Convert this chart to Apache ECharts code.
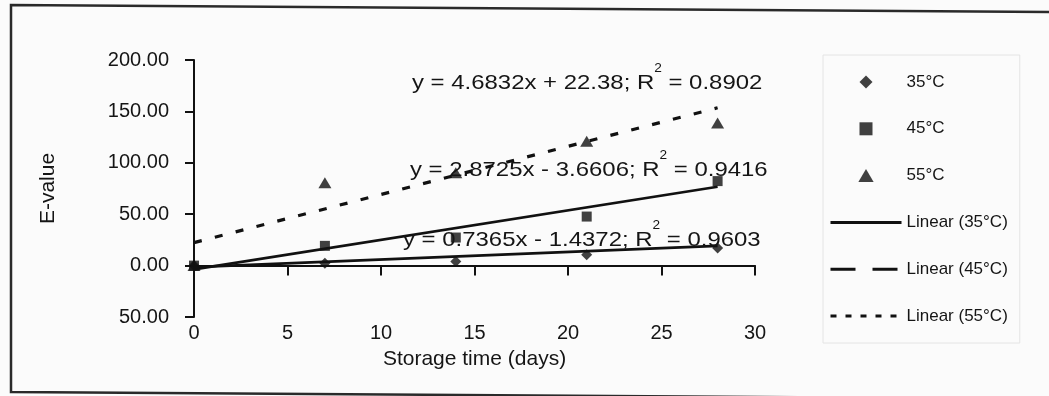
<!DOCTYPE html>
<html>
<head>
<meta charset="utf-8">
<script src="https://cdn.jsdelivr.net/npm/echarts@6/dist/echarts.min.js"></script>
<style>
  html, body { margin: 0; padding: 0; background: #fbfbfb; }
  #chart { width: 1049px; height: 396px; }
</style>
</head>
<body>
<div id="chart"></div>
<script>
// Storage days and measured E-values per temperature
const days = [0, 7, 14, 21, 28];
const temps = ['35°C', '45°C', '55°C'];
const eValue35 = [0, 2.4, 4.0, 10.5, 17.0];
const eValue45 = [0, 19.2, 27.3, 47.7, 82.2];
const eValue55 = [0, 80.6, 90.3, 121.0, 138.8];

// Linear regression results (slope, intercept, R²) per temperature
const fitSlope = [0.7365, 2.8725, 4.6832];
const fitIntercept = [-1.4372, -3.6606, 22.38];
const fitR2 = [0.9603, 0.9416, 0.8902];

// Axis tick values and their printed labels
const yTicks = [-50, 0, 50, 100, 150, 200];
const yTickLabels = ['50.00', '0.00', '50.00', '100.00', '150.00', '200.00'];
const xTicks = [0, 5, 10, 15, 20, 25, 30];
const xTickLabels = ['0', '5', '10', '15', '20', '25', '30'];

const FONT = '"Liberation Sans", Arial, sans-serif';
const INK = '#151515';
const LINE = '#111';
const CLEAR = 'rgba(0,0,0,0)';

const symbols = [
  'path://M0,-1L1,0L0,1L-1,0Z',          // diamond
  'path://M-1,-1L1,-1L1,1L-1,1Z',        // square
  'path://M0,-0.85L1,0.85L-1,0.85Z'      // triangle
];
const symbolSizes = [[11, 11], [10, 10], [13, 11]];
const measured = [eValue35, eValue45, eValue55];
const fitNames = temps.map(t => 'Linear (' + t + ')');
const fitDash = ['solid', 'solid', [8, 13.5]];
const legendDash = ['solid', [25, 17], [6, 9]];

// Trend line spans the measured day range
function fitLine(i) {
  const x0 = days[0], x1 = days[days.length - 1];
  return [[x0, fitSlope[i] * x0 + fitIntercept[i]], [x1, fitSlope[i] * x1 + fitIntercept[i]]];
}

function equationText(i) {
  const b = fitIntercept[i];
  const sign = b < 0 ? '-' : '+';
  return '{t|y = ' + fitSlope[i] + 'x ' + sign + ' ' + Math.abs(b) + '; R}{s|2}{t| = ' + fitR2[i] + '}';
}

const series = [];
for (let i = 0; i < 3; i++) {
  series.push({
    name: fitNames[i],
    type: 'line',
    xAxisIndex: 0,
    data: fitLine(i),
    symbol: 'none',
    lineStyle: { color: LINE, width: i === 2 ? 3.2 : 2.6, type: fitDash[i] },
    itemStyle: { color: LINE },
    silent: true,
    z: 2
  });
}
for (let i = 0; i < 3; i++) {
  series.push({
    name: temps[i],
    type: 'scatter',
    xAxisIndex: 0,
    data: days.map((d, k) => [d, measured[i][k]]),
    symbol: symbols[i],
    symbolSize: symbolSizes[i],
    itemStyle: { color: LINE },
    z: 3
  });
}

// Equation labels beside each trend line (35°C bottom, 45°C middle, 55°C top)
const eqPos = [[403, 240], [410, 170], [412, 83]];
const richStyle = {
  t: { fontFamily: FONT, fontSize: 21, fill: INK },
  s: { fontFamily: FONT, fontSize: 12, fill: INK, padding: [0, 0, 28, 0] }
};
const equationGraphics = [0, 1, 2].map(i => ({
  type: 'text',
  x: eqPos[i][0],
  y: eqPos[i][1],
  scaleX: 1.14,
  silent: true,
  style: {
    text: equationText(i),
    rich: richStyle,
    verticalAlign: 'middle',
    align: 'left'
  },
  z: 10
}));

const lineLegendItem = i => ({
  name: fitNames[i],
  lineStyle: { type: legendDash[i], width: 3 },
  itemStyle: { color: CLEAR, borderColor: CLEAR, borderWidth: 0 }
});

const chart = echarts.init(document.getElementById('chart'), null, { renderer: 'canvas' });
chart.setOption({
  backgroundColor: '#fbfbfb',
  animation: false,
  textStyle: { fontFamily: FONT, color: INK },
  grid: { left: 194, top: 60, width: 561, height: 257, containLabel: false },
  legend: {
    orient: 'vertical',
    left: 823,
    top: 55,
    padding: [18.5, 12, 18.5, 6],
    borderColor: '#e4e4e4',
    borderWidth: 1,
    itemWidth: 71,
    itemHeight: 13,
    itemGap: 29.8,
    selectedMode: false,
    textStyle: { fontFamily: FONT, fontSize: 17, color: INK },
    data: [
      { name: temps[0], icon: symbols[0] },
      { name: temps[1], icon: symbols[1] },
      { name: temps[2], icon: symbols[2] },
      lineLegendItem(0),
      lineLegendItem(1),
      lineLegendItem(2)
    ]
  },
  xAxis: [
    {
      // axis line and ticks sit on E-value = 0
      type: 'value', min: 0, max: 30, interval: 5,
      axisLine: { show: true, onZero: true, lineStyle: { color: LINE, width: 2 } },
      axisTick: { show: true, inside: false, length: 10, lineStyle: { color: LINE, width: 2 } },
      axisLabel: { show: false },
      splitLine: { show: false }
    },
    {
      // tick labels and title along the bottom edge
      type: 'value', min: 0, max: 30, interval: 5, position: 'bottom',
      axisLine: { show: false, onZero: false },
      axisTick: { show: false },
      axisLabel: {
        margin: 6, fontSize: 20, fontFamily: FONT, color: INK,
        formatter: v => xTickLabels[xTicks.indexOf(v)]
      },
      splitLine: { show: false },
      name: 'Storage time (days)',
      nameLocation: 'middle',
      nameGap: 32,
      nameTextStyle: { fontSize: 21, fontFamily: FONT, color: INK }
    }
  ],
  yAxis: {
    type: 'value', min: -50, max: 200, interval: 50,
    axisLine: { show: true, onZero: false, lineStyle: { color: LINE, width: 2 } },
    axisTick: { show: true, inside: false, length: 9, lineStyle: { color: LINE, width: 2 } },
    axisLabel: {
      margin: 25, fontSize: 20, fontFamily: FONT, color: INK,
      formatter: v => yTickLabels[yTicks.indexOf(v)]
    },
    splitLine: { show: false },
    name: 'E-value',
    nameLocation: 'middle',
    nameGap: 135,
    nameTextStyle: { fontSize: 21, fontFamily: FONT, color: INK }
  },
  graphic: [
    {
      // outer frame of the figure
      type: 'polyline',
      silent: true,
      shape: { points: [[1060, 12], [11, 5], [11, 392], [1060, 399]] },
      style: { stroke: '#2a2a2a', lineWidth: 2.5, fill: null }
    }
  ].concat(equationGraphics),
  series: series
});
</script>
</body>
</html>
